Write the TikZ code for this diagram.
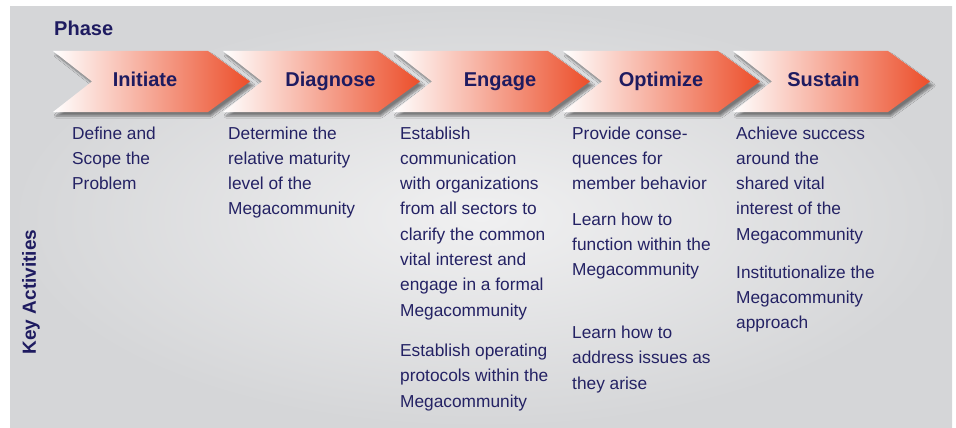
\documentclass[tikz,border=0pt]{standalone}
\usepackage{fontspec}
\setmainfont{Liberation Sans}
\usepackage{tikz}
\usetikzlibrary{shadows.blur}

\definecolor{phaseblue}{RGB}{30,27,96}
\definecolor{textblue}{RGB}{36,34,100}
\definecolor{chevred}{RGB}{236,78,42}
\definecolor{panelgray}{RGB}{213,214,216}
\definecolor{panellight}{RGB}{240,240,241}

\begin{document}
\begin{tikzpicture}[x=1pt,y=-1pt,
    heading/.style={text=phaseblue,font=\fontsize{20}{24}\selectfont\bfseries,inner sep=0pt},
    activity/.style={text=textblue,font=\fontsize{17.3}{25.3}\selectfont,align=left,anchor=base west,inner sep=0pt},
    chevron/.style={left color=white,middle color=chevred!8,right color=chevred,
        blur shadow={shadow xshift=3pt,shadow yshift=-4pt,shadow opacity=45,shadow blur steps=6}}]
    \useasboundingbox (0,0) rectangle (956,428);
    \fill [inner color=panellight,outer color=panelgray] (10,7) rectangle (952,428);

    \node [heading,anchor=base west] (phase) at (54,36) {Phase};
    \node [heading,font=\fontsize{19}{23}\selectfont\bfseries,rotate=90] (keyact) at (31,292) {Key Activities};

    \foreach \x/\cx/\name/\label in {53/145/initiate/Initiate, 223/330.5/diagnose/Diagnose,
        393/500/engage/Engage, 563/661/optimize/Optimize, 733/823.5/sustain/Sustain}{
        \path [chevron] (\x,51) -- ++(155,0) -- ++(42,30.5) -- ++(-42,30.5) -- ++(-155,0) -- ++(39,-30.5) -- cycle;
        \node [heading,anchor=base] (\name) at (\cx,87) {\label};
    }

    % nodes sit on the baseline of their last line
    \node [activity] (define) at (72,189.6) {Define and\\Scope the\\Problem};
    \node [activity] (determine) at (228,214.9) {Determine the\\relative maturity\\level of the\\Megacommunity};
    \node [activity] (establish) at (400,316.1) {Establish\\communication\\with organizations\\from all sectors to\\clarify the common\\vital interest and\\engage in a formal\\Megacommunity};
    \node [activity] (protocols) at (400,407.1) {Establish operating\\protocols within the\\Megacommunity};
    \node [activity] (consequences) at (572,189.6) {Provide conse-\\quences for\\member behavior};
    \node [activity] (function) at (572,275.6) {Learn how to\\function within the\\Megacommunity};
    \node [activity] (issues) at (572,389.1) {Learn how to\\address issues as\\they arise};
    \node [activity] (achieve) at (736,240.2) {Achieve success\\around the\\shared vital\\interest of the\\Megacommunity};
    \node [activity] (institutionalize) at (736,328.6) {Institutionalize the\\Megacommunity\\approach};
\end{tikzpicture}
\end{document}
